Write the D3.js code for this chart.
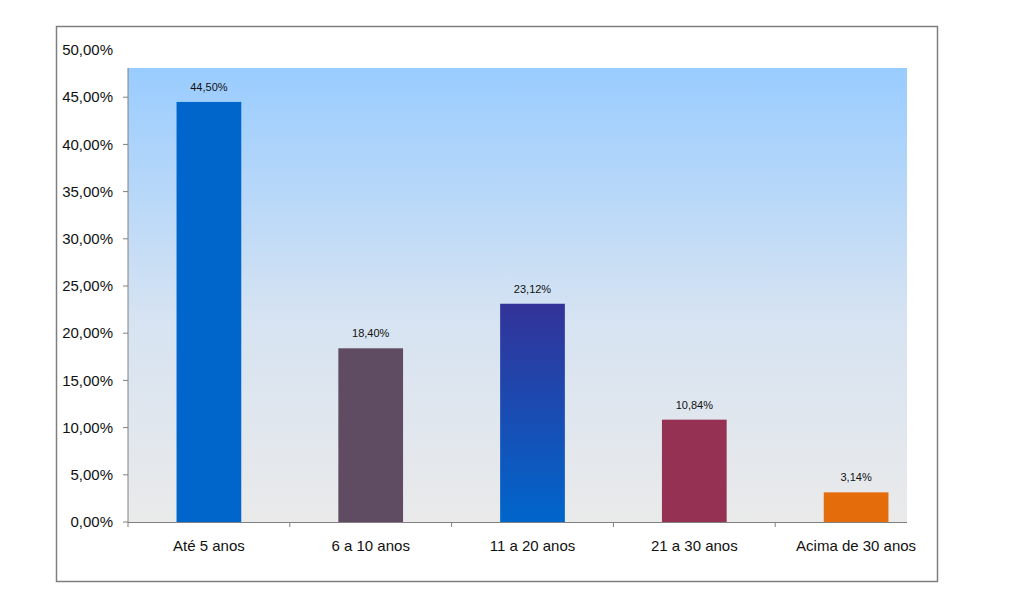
<!DOCTYPE html>
<html><head><meta charset="utf-8">
<script src="https://cdn.jsdelivr.net/npm/d3@7"></script>
<style>body{margin:0;background:#fff}svg{display:block;font-family:"Liberation Sans",Arial,sans-serif}</style>
</head><body>
<svg id="c" width="1024" height="598"></svg>
<script>
const categories = ["Até 5 anos","6 a 10 anos","11 a 20 anos","21 a 30 anos","Acima de 30 anos"];
const values = [0.4450,0.1840,0.2312,0.1084,0.0314];
const valueLabels = ["44,50%","18,40%","23,12%","10,84%","3,14%"];
const yTicks = [0,0.05,0.10,0.15,0.20,0.25,0.30,0.35,0.40,0.45,0.50];
const barColors = ["#0066cc","#604c62","url(#g3)","#953153","#e46c0a"];

const svg = d3.select("#c");
const defs = svg.append("defs");
const bg = defs.append("linearGradient").attr("id","bg").attr("x1",0).attr("y1",0).attr("x2",0).attr("y2",1);
bg.append("stop").attr("offset","0%").attr("stop-color","#99ccff");
bg.append("stop").attr("offset","55%").attr("stop-color","#d6e3f2");
bg.append("stop").attr("offset","100%").attr("stop-color","#eaeaea");
const g3 = defs.append("linearGradient").attr("id","g3").attr("x1",0).attr("y1",0).attr("x2",0).attr("y2",1);
g3.append("stop").attr("offset","0%").attr("stop-color","#333399");
g3.append("stop").attr("offset","100%").attr("stop-color","#0066cc");
defs.append("clipPath").attr("id","clip").append("rect").attr("x",0).attr("y",0).attr("width",907).attr("height",598);

// outer frame
svg.append("rect").attr("x",56.5).attr("y",26.5).attr("width",881).attr("height",555)
  .attr("fill","#fff").attr("stroke","#7f7f7f").attr("stroke-width",1.5);

const x = d3.scaleBand().domain(categories).range([128,937]).paddingInner(0.6).paddingOuter(0.3);
const y = d3.scaleLinear().domain([0,0.5]).range([522,50]);
const plotTop = 68, plotLeft = 128, plotRight = 907;

svg.append("rect").attr("x",plotLeft).attr("y",plotTop).attr("width",plotRight-plotLeft).attr("height",y(0)-plotTop).attr("fill","url(#bg)");

svg.append("g").selectAll("rect").data(values).join("rect")
  .attr("x",(d,i)=>x(categories[i])).attr("width",x.bandwidth())
  .attr("y",d=>y(d)).attr("height",d=>y(0)-y(d))
  .attr("fill",(d,i)=>barColors[i]);

svg.append("g").selectAll("text").data(values).join("text")
  .attr("x",(d,i)=>x(categories[i])+x.bandwidth()/2).attr("y",d=>y(d)-11)
  .attr("text-anchor","middle").attr("font-size",11).attr("fill","#111")
  .text((d,i)=>valueLabels[i]);

// y axis
const fmt = d=>d3.format(".2f")(d*100).replace(".",",")+"%";
const ya = svg.append("g");
ya.append("line").attr("x1",plotLeft).attr("x2",plotLeft).attr("y1",plotTop).attr("y2",y(0)).attr("stroke","#808080");
ya.selectAll("line.t").data(yTicks.filter(t=>y(t)>=plotTop)).join("line").attr("class","t")
  .attr("x1",plotLeft-5).attr("x2",plotLeft).attr("y1",d=>y(d)).attr("y2",d=>y(d)).attr("stroke","#808080");
ya.selectAll("text").data(yTicks).join("text")
  .attr("x",113).attr("y",d=>y(d)).attr("dy","0.35em").attr("text-anchor","end")
  .attr("font-size",15).attr("fill","#111").text(fmt);

// x axis
const xa = svg.append("g").attr("clip-path","url(#clip)");
xa.append("line").attr("x1",plotLeft).attr("x2",plotRight).attr("y1",y(0)+0.5).attr("y2",y(0)+0.5).attr("stroke","#808080");
const bounds = categories.map((c,i)=>x(c)-x.step()*x.paddingInner()/2);
xa.selectAll("line.t").data(bounds.concat([937])).join("line").attr("class","t")
  .attr("x1",d=>d).attr("x2",d=>d).attr("y1",y(0)).attr("y2",y(0)+5).attr("stroke","#808080");
svg.append("g").selectAll("text").data(categories).join("text")
  .attr("x",d=>x(d)+x.bandwidth()/2).attr("y",546).attr("dy","0.35em").attr("text-anchor","middle")
  .attr("font-size",15).attr("fill","#111").text(d=>d);
</script>
</body></html>
